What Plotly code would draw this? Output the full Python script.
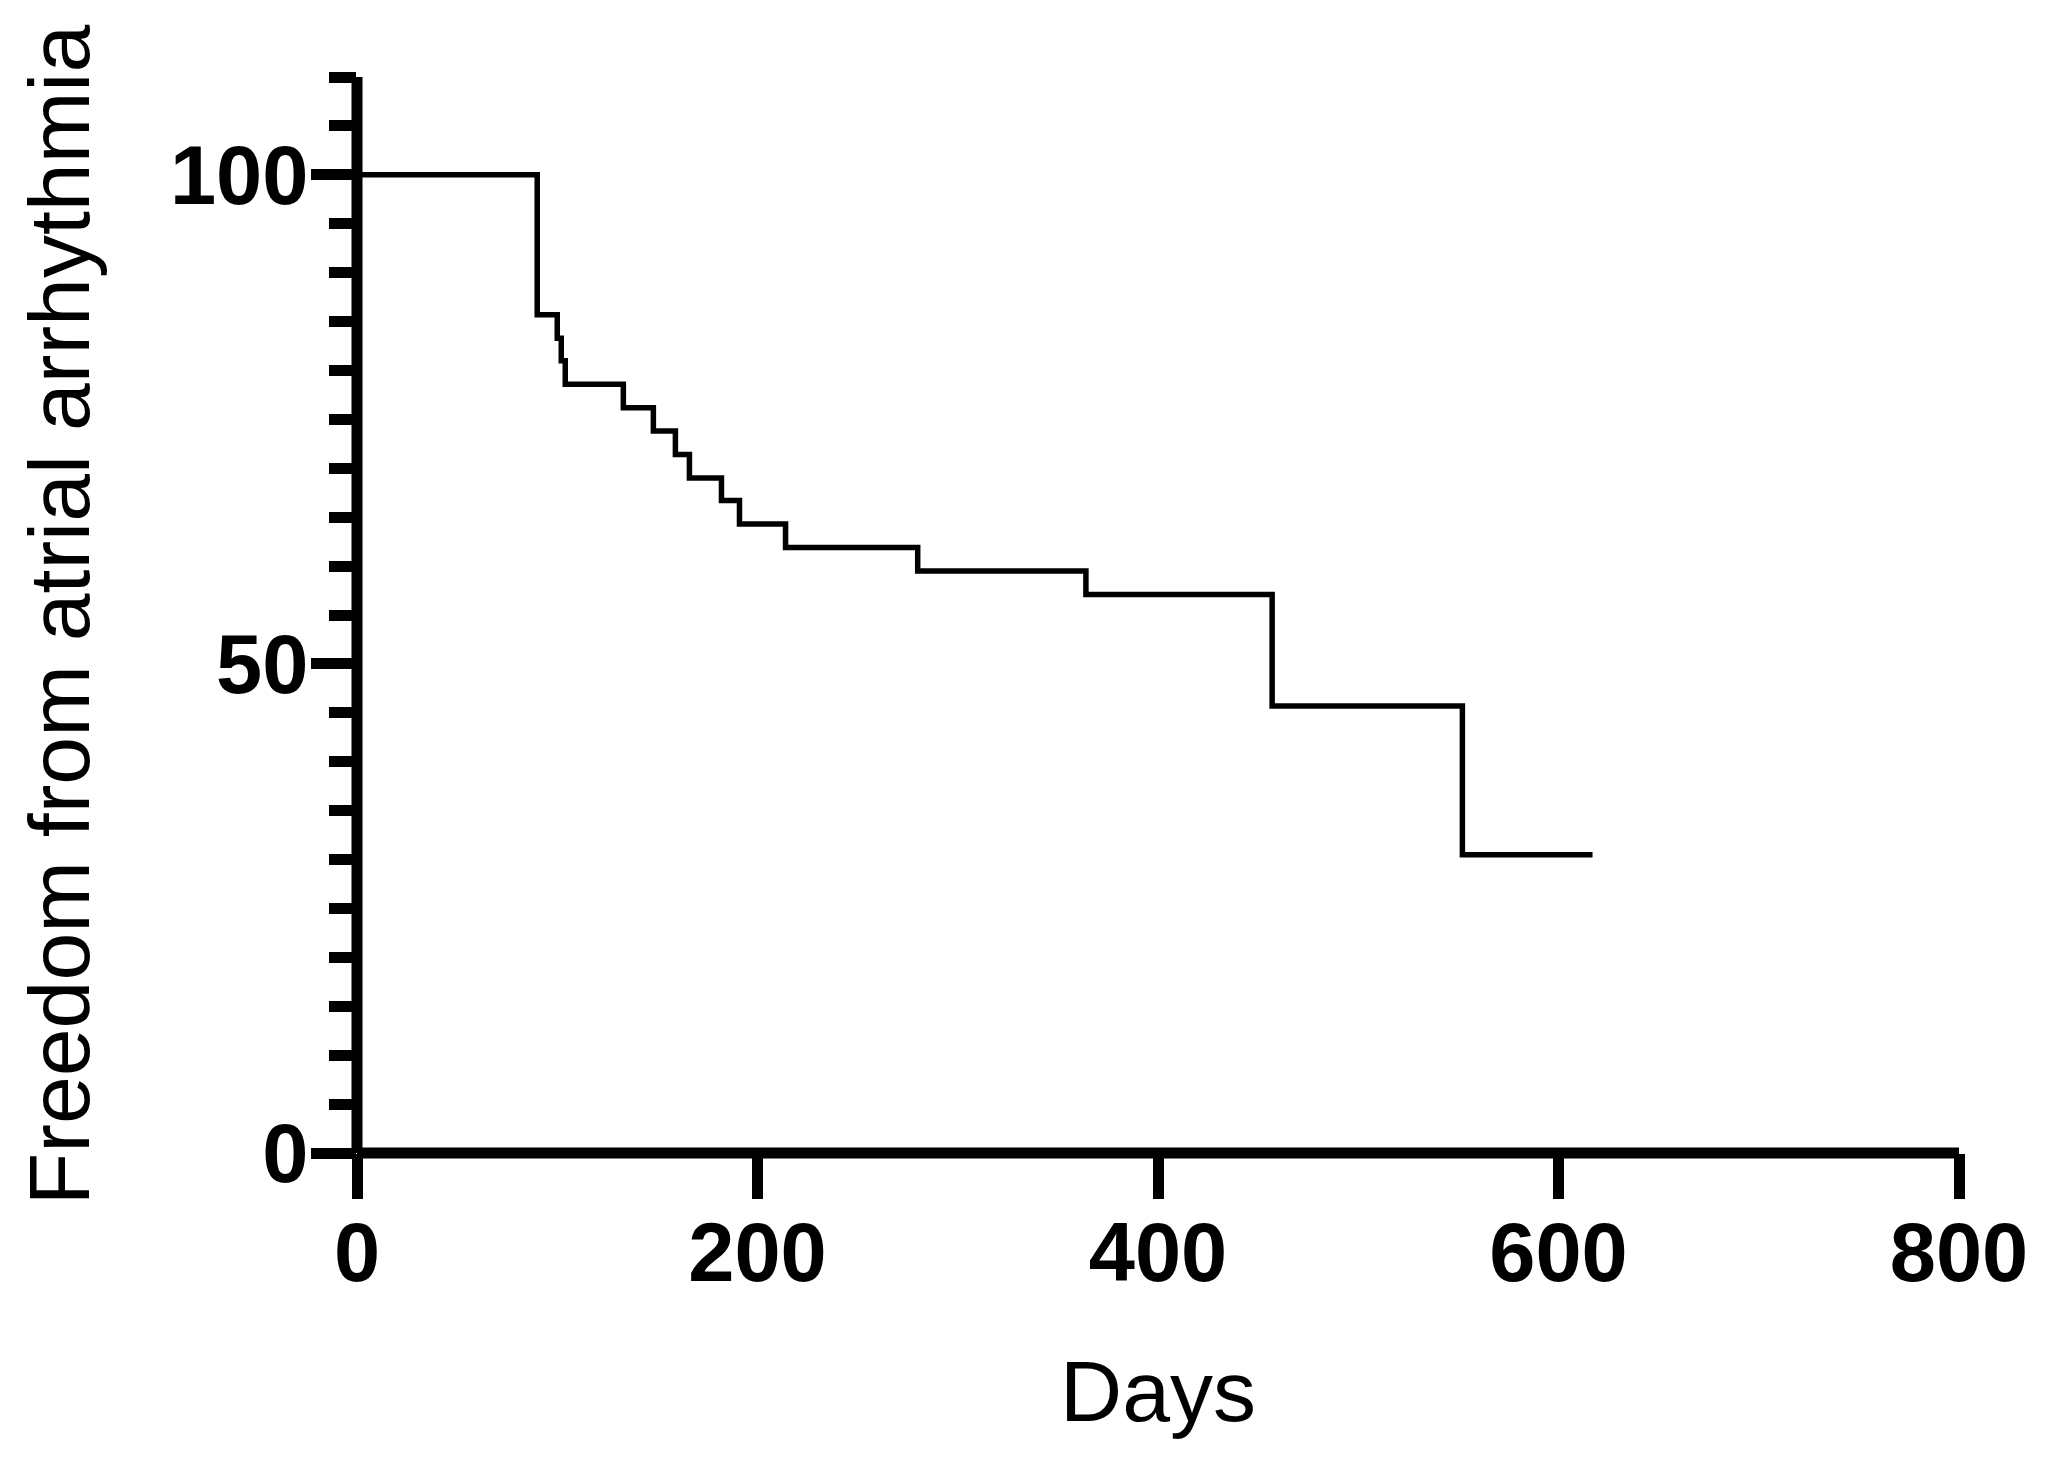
import plotly.graph_objects as go

# Kaplan-Meier step data
days = [0, 90, 100, 102, 104, 133, 148, 159, 166, 182, 191, 214, 280, 364, 457, 552, 617]
freedom = [100, 85.7, 83.3, 81.0, 78.6, 76.2, 73.8, 71.4, 69.0, 66.7, 64.3, 61.9, 59.5, 57.1, 45.7, 30.5, 30.5]

x_ticks = [0, 200, 400, 600, 800]
y_ticks = [0, 50, 100]
x_range = [0, 800]
y_range = [0, 110]

x_title = "Days"
y_title = "Freedom from atrial arrhythmia"

AXW = 11
FONT = "Liberation Sans, Arial, sans-serif"

fig = go.Figure()
fig.add_trace(go.Scatter(
    x=days, y=freedom, mode="lines", line_shape="hv",
    line=dict(color="black", width=5.5), showlegend=False, hoverinfo="skip",
))

# axis lines crossing at the origin (drawn in paper space so they are not clipped)
fig.add_shape(type="line", xref="paper", yref="paper", x0=0, y0=0, x1=1, y1=0,
              line=dict(color="black", width=AXW), layer="above")
fig.add_shape(type="line", xref="paper", yref="paper", x0=0, y0=0, x1=0, y1=1,
              line=dict(color="black", width=AXW), layer="above")

fig.update_layout(
    width=2032, height=1442,
    margin=dict(l=349, r=71, t=69, b=297),
    paper_bgcolor="white", plot_bgcolor="white",
    font=dict(family=FONT, color="black"),
    xaxis=dict(
        range=x_range, tickvals=x_ticks, ticktext=[str(v) for v in x_ticks],
        showgrid=False, zeroline=False, showline=False,
        ticks="outside", ticklen=45, tickwidth=AXW, tickcolor="black",
        tickfont=dict(family=FONT, size=83, color="black", weight="bold"),
        ticklabelstandoff=-18,
        title=dict(text=x_title, font=dict(family=FONT, size=86, color="black"), standoff=63),
        fixedrange=True,
    ),
    yaxis=dict(
        range=y_range, tickvals=y_ticks, ticktext=[str(v) for v in y_ticks],
        showgrid=False, zeroline=False, showline=False,
        ticks="outside", ticklen=45, tickwidth=AXW, tickcolor="black",
        minor=dict(dtick=5, ticks="outside", ticklen=27, tickwidth=AXW, tickcolor="black", showgrid=False),
        tickfont=dict(family=FONT, size=83, color="black", weight="bold"),
        ticklabelstandoff=-14,
        title=dict(text=y_title, font=dict(family=FONT, size=86, color="black"), standoff=51),
        fixedrange=True,
    ),
)

fig.write_html("out.html")
